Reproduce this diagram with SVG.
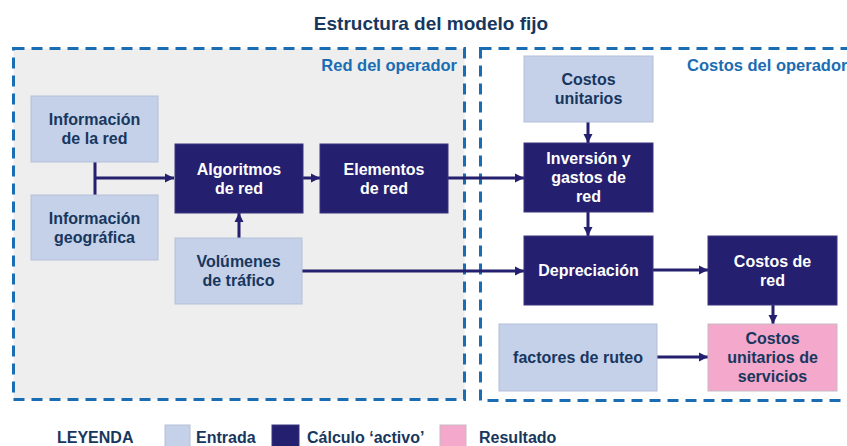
<svg xmlns="http://www.w3.org/2000/svg" width="847" height="446" viewBox="0 0 847 446">
<defs>
<style>
text{font-family:"Liberation Sans",Arial,sans-serif;font-weight:bold}
.title{font-size:19px;fill:#17375e}
.sec{font-size:16.5px;fill:#1a6db3}
.lbl{font-size:16px;text-anchor:middle}
.in{fill:#c5d0e9;stroke:#b4bfd8;stroke-width:1}
.calc{fill:#241f6f;stroke:#3a3580;stroke-width:1}
.res{fill:#f4a8cb;stroke:#c8b9c2;stroke-width:1}
.dk{fill:#17375e}
.lt{fill:#ffffff}
.dash{fill:none;stroke:#1a6db3;stroke-width:3;stroke-dasharray:11 7}
.con{fill:none;stroke:#241f6f;stroke-width:3}
.leg{font-size:16px;fill:#17375e}
</style>
<marker id="arr" markerUnits="userSpaceOnUse" markerWidth="10" markerHeight="10" refX="9" refY="5" orient="auto">
<path d="M0,0.5 L9,5 L0,9.5 Z" fill="#241f6f"/>
</marker>
</defs>

<text class="title" x="431" y="30" text-anchor="middle">Estructura del modelo fijo</text>

<g id="sec-red">
<rect x="13.5" y="48.5" width="451" height="351" style="fill:#eeeeee"/>
<rect x="13.5" y="48.5" width="451" height="351" class="dash"/>
<text class="sec" x="457" y="71" text-anchor="end">Red del operador</text>
</g>
<g id="sec-costos">
<rect x="480.5" y="48.5" width="400" height="352" class="dash"/>
<text class="sec" x="687" y="71">Costos del operador</text>
</g>

<g id="connectors">
<path class="con" d="M95,162 V195"/>
<path class="con" d="M95,178 H174" marker-end="url(#arr)"/>
<path class="con" d="M303,178 H320" marker-end="url(#arr)"/>
<path class="con" d="M239,238 V213" marker-end="url(#arr)"/>
<path class="con" d="M448,178 H524" marker-end="url(#arr)"/>
<path class="con" d="M302,271 H524" marker-end="url(#arr)"/>
<path class="con" d="M588,122 V143" marker-end="url(#arr)"/>
<path class="con" d="M588,212 V236" marker-end="url(#arr)"/>
<path class="con" d="M653,270 H708" marker-end="url(#arr)"/>
<path class="con" d="M773,305 V324" marker-end="url(#arr)"/>
<path class="con" d="M657,357 H708" marker-end="url(#arr)"/>
</g>

<g id="info-red">
<rect class="in" x="31" y="96" width="127" height="66"/>
<text class="lbl dk" x="94.5" y="125.25">Información</text>
<text class="lbl dk" x="94.5" y="144.25">de la red</text>
</g>
<g id="info-geo">
<rect class="in" x="31" y="195" width="127" height="65"/>
<text class="lbl dk" x="94.5" y="223.75">Información</text>
<text class="lbl dk" x="94.5" y="242.75">geográfica</text>
</g>
<g id="algoritmos">
<rect class="calc" x="175" y="144" width="128" height="69"/>
<text class="lbl lt" x="239" y="174.75">Algoritmos</text>
<text class="lbl lt" x="239" y="193.75">de red</text>
</g>
<g id="elementos">
<rect class="calc" x="320" y="144" width="128" height="69"/>
<text class="lbl lt" x="384" y="174.75">Elementos</text>
<text class="lbl lt" x="384" y="193.75">de red</text>
</g>
<g id="volumenes">
<rect class="in" x="175" y="238" width="127" height="66"/>
<text class="lbl dk" x="238.5" y="267.25">Volúmenes</text>
<text class="lbl dk" x="238.5" y="286.25">de tráfico</text>
</g>
<g id="costos-unitarios">
<rect class="in" x="524" y="56" width="129" height="66"/>
<text class="lbl dk" x="588.5" y="85.25">Costos</text>
<text class="lbl dk" x="588.5" y="104.25">unitarios</text>
</g>
<g id="inversion">
<rect class="calc" x="524" y="143" width="129" height="69"/>
<text class="lbl lt" x="588.5" y="164.25">Inversión y</text>
<text class="lbl lt" x="588.5" y="183.25">gastos de</text>
<text class="lbl lt" x="588.5" y="202.25">red</text>
</g>
<g id="depreciacion">
<rect class="calc" x="524" y="236" width="129" height="69"/>
<text class="lbl lt" x="588.5" y="276.25">Depreciación</text>
</g>
<g id="costos-red">
<rect class="calc" x="708" y="236" width="129" height="69"/>
<text class="lbl lt" x="772.5" y="266.75">Costos de</text>
<text class="lbl lt" x="772.5" y="285.75">red</text>
</g>
<g id="factores">
<rect class="in" x="499" y="324" width="158" height="67"/>
<text class="lbl dk" x="578" y="363.25">factores de ruteo</text>
</g>
<g id="costos-servicios">
<rect class="res" x="708" y="324" width="129" height="67"/>
<text class="lbl dk" x="772.5" y="344.25">Costos</text>
<text class="lbl dk" x="772.5" y="363.25">unitarios de</text>
<text class="lbl dk" x="772.5" y="382.25">servicios</text>
</g>

<g id="legend">
<text class="leg" x="57" y="443">LEYENDA</text>
<rect class="in" x="165" y="425" width="25" height="24"/>
<text class="leg" x="196" y="443">Entrada</text>
<rect class="calc" x="272" y="425" width="27" height="24"/>
<text class="leg" x="307" y="443">Cálculo ‘activo’</text>
<rect class="res" x="440" y="425" width="26" height="24"/>
<text class="leg" x="479" y="443">Resultado</text>
</g>
</svg>
